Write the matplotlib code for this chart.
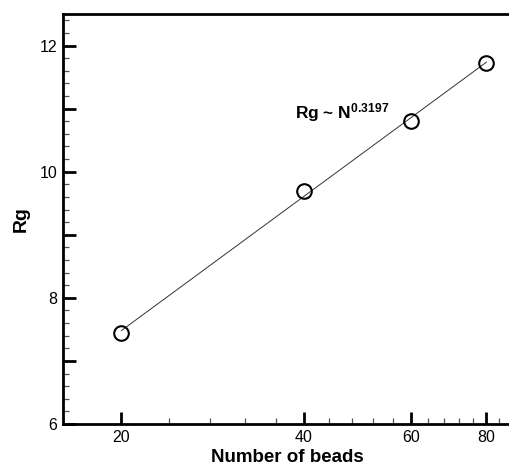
import numpy as np
import matplotlib
matplotlib.use("Agg")
import matplotlib.pyplot as plt
from matplotlib.ticker import FixedLocator, MultipleLocator, FuncFormatter, NullFormatter

plt.rcParams['font.family'] = 'Liberation Sans'
plt.rcParams['mathtext.fontset'] = 'custom'
plt.rcParams['mathtext.rm'] = 'Liberation Sans:bold'
plt.rcParams['mathtext.it'] = 'Liberation Sans:bold'
plt.rcParams['mathtext.bf'] = 'Liberation Sans:bold'

# chain length vs radius of gyration
beads = np.array([20, 40, 60, 80])
rg = np.array([7.45, 9.69, 10.81, 11.73])
exponent = 0.3197

# straight fit line on the semi-log axes
coef = np.polyfit(np.log(beads), rg, 1)
n_fit = np.geomspace(beads.min(), beads.max(), 50)
rg_fit = np.polyval(coef, np.log(n_fit))

fig = plt.figure(figsize=(5.09, 4.66), dpi=100)
ax = fig.add_axes([0.123, 0.090, 0.882, 0.880])

ax.plot(n_fit, rg_fit, color='#333333', lw=0.7)
ax.plot(beads, rg, 'o', ms=10.5, mfc='none', mec='black', mew=1.5)

ax.set_xscale('log')
ax.set_xlim(16, 88)
ax.set_ylim(6, 12.5)

ax.xaxis.set_major_locator(FixedLocator([20, 40, 60, 80]))
ax.xaxis.set_major_formatter(FuncFormatter(lambda v, p: '%d' % v))
ax.xaxis.set_minor_locator(FixedLocator([24, 28, 32, 36, 44, 48, 52, 56,
                                         64, 68, 72, 76, 84]))
ax.xaxis.set_minor_formatter(NullFormatter())

ax.yaxis.set_major_locator(MultipleLocator(1))
ax.yaxis.set_major_formatter(FuncFormatter(
    lambda v, p: '%d' % v if int(round(v)) % 2 == 0 else ''))
ax.yaxis.set_minor_locator(MultipleLocator(0.2))

ax.tick_params(which='major', direction='in', length=9, width=2,
               labelsize=11.5, pad=4)
ax.tick_params(which='minor', direction='in', length=4.5, width=0.9,
               color='#555555')
ax.tick_params(top=False, right=False, which='both')

for side in ['left', 'bottom', 'top']:
    ax.spines[side].set_linewidth(2)
ax.spines['right'].set_visible(False)

ax.set_xlabel('Number of beads', fontsize=13.5, fontweight='bold', labelpad=3)
ax.set_ylabel('Rg', fontsize=14, fontweight='bold', labelpad=7)

ax.text(38.6, 10.94, 'Rg ~ N$^{%s}$' % exponent, fontsize=12.5,
        fontweight='bold', va='center', ha='left')

fig.savefig('out.png', dpi=100)
